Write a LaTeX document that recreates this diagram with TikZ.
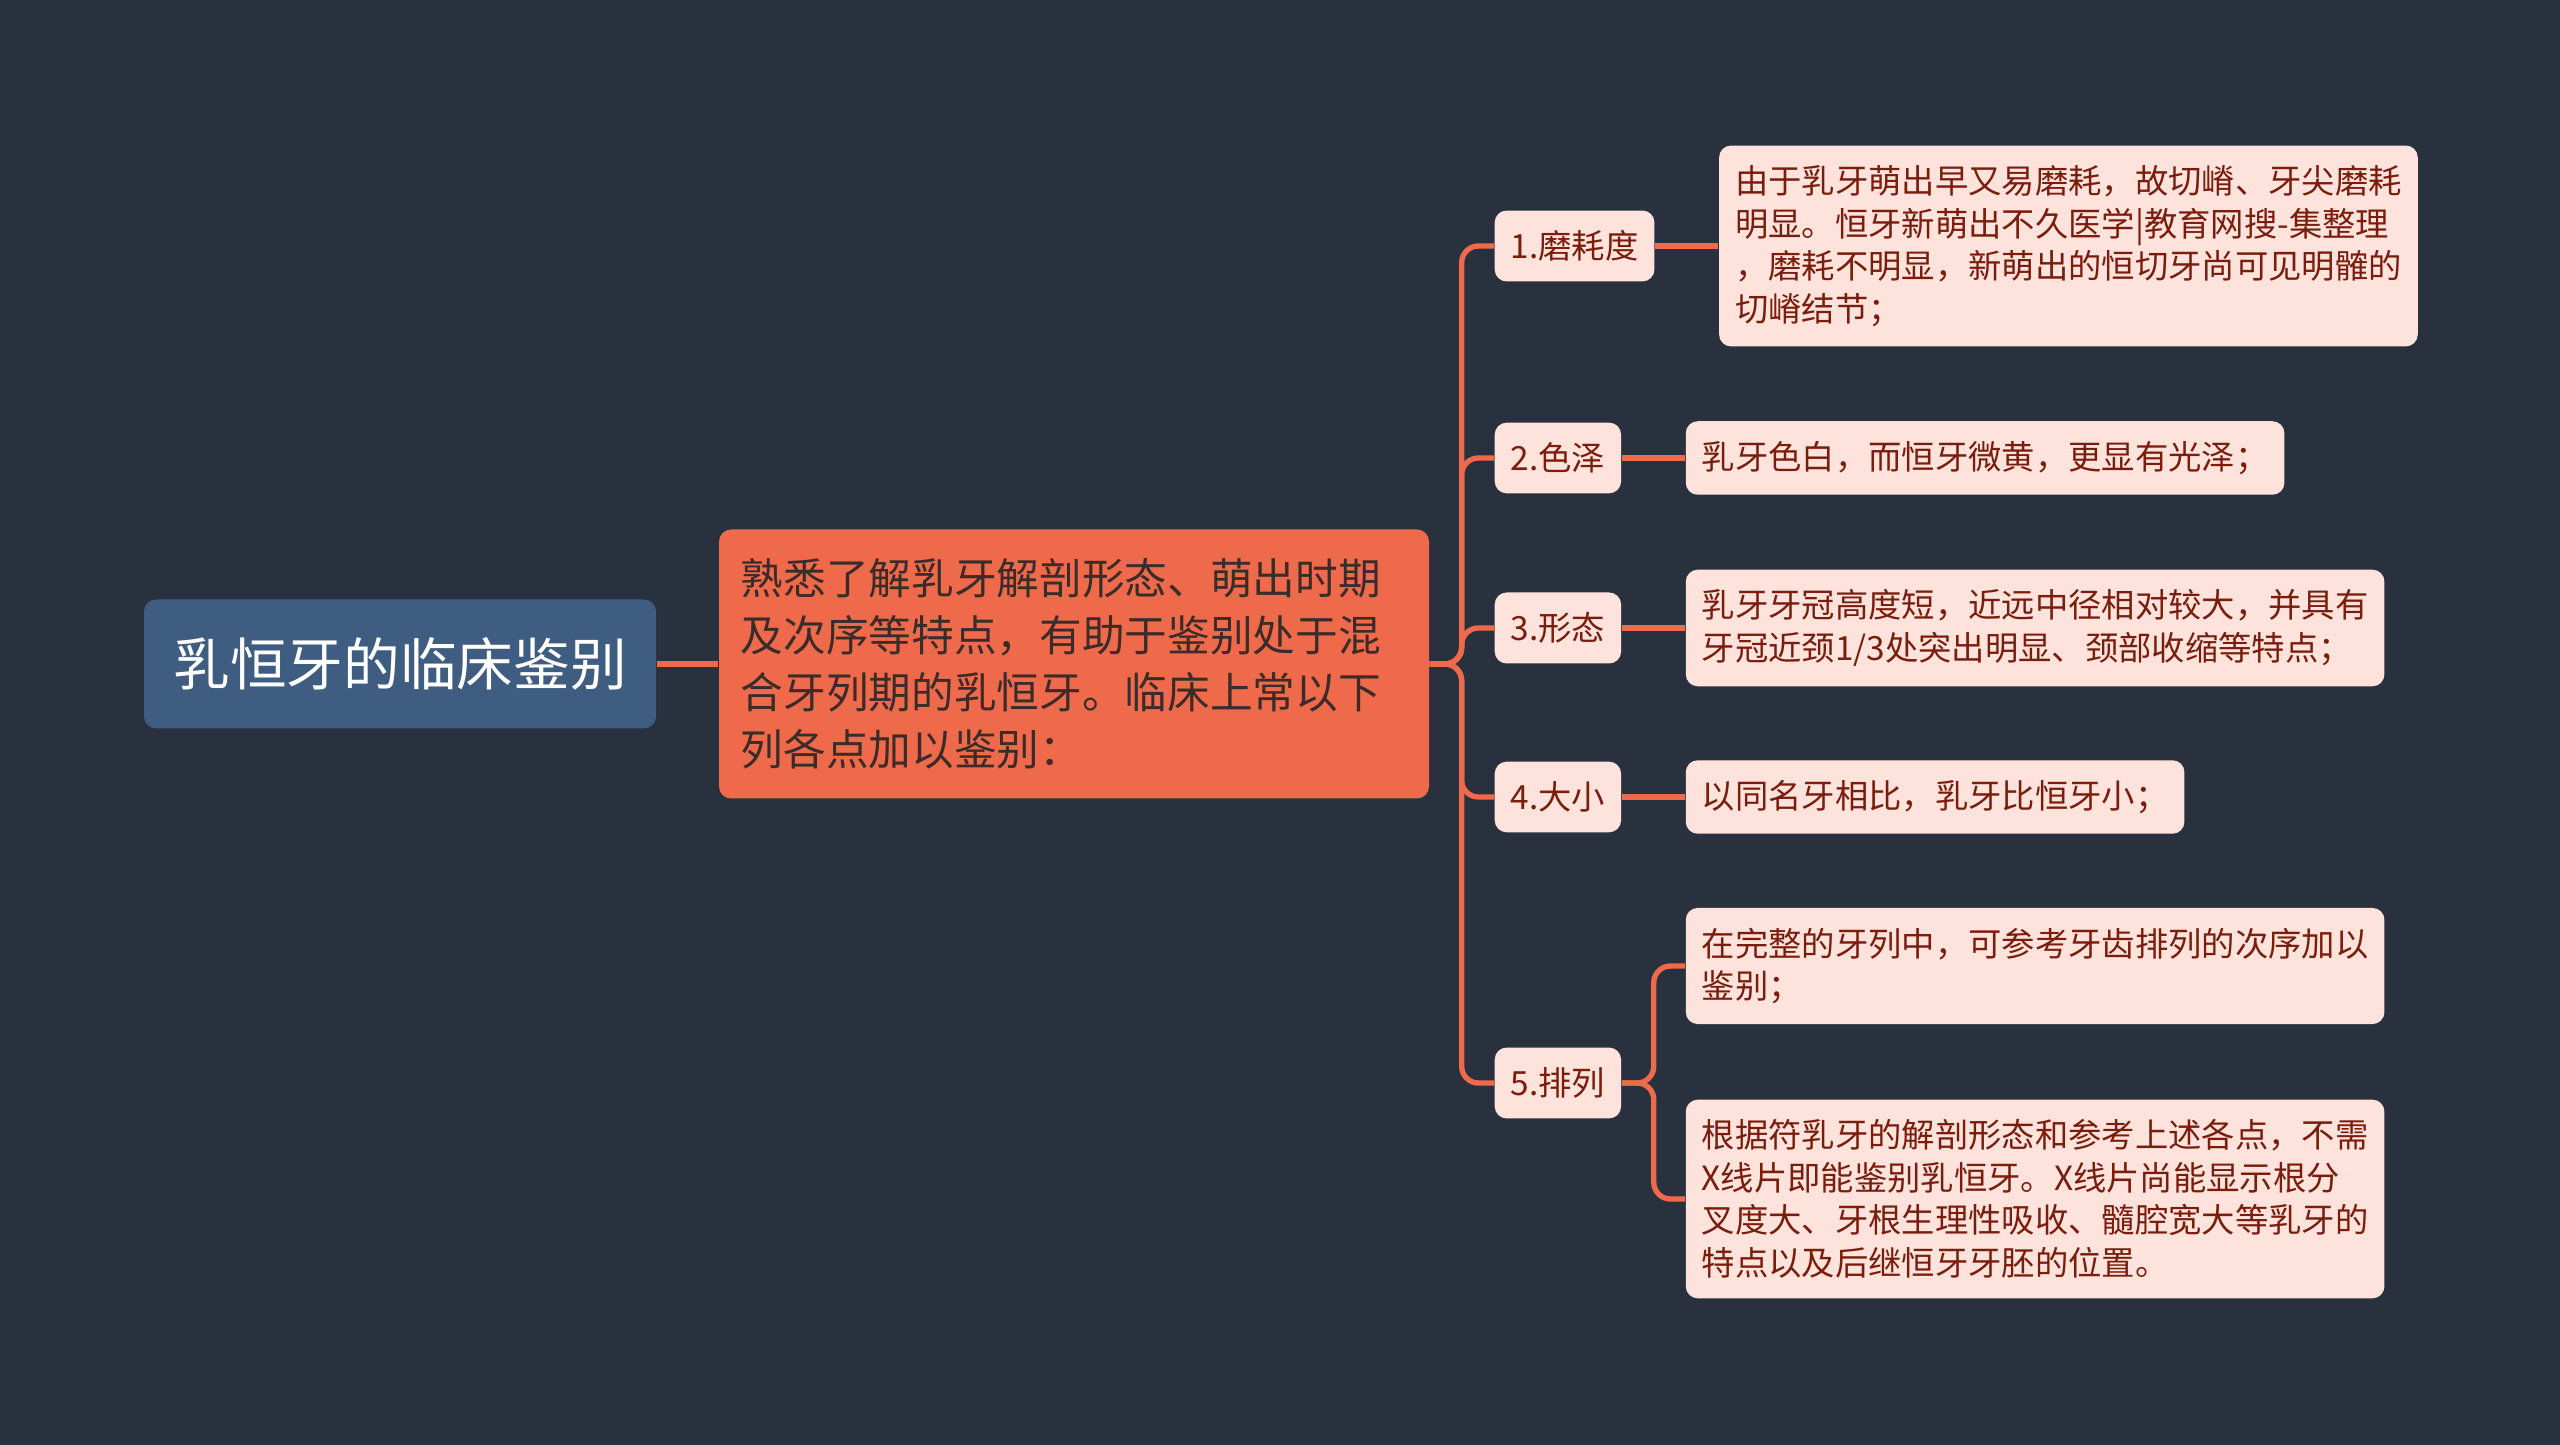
\documentclass[tikz,border=0pt]{standalone}
\usepackage{fontspec}
\newfontfamily\cjk{Noto Sans CJK SC}
\usetikzlibrary{positioning}
\definecolor{azulnoche}{HTML}{29313F}
\definecolor{azulraiz}{HTML}{3F5D81}
\definecolor{coral}{HTML}{EE6A4B}
\definecolor{rosapalido}{HTML}{FDE3DC}
\definecolor{granate}{HTML}{7A1D0D}
\definecolor{tinta}{HTML}{3B2C2A}
\colorlet{colFondo}{azulnoche}
\colorlet{colLinea}{coral}
\tikzset{
  cajaBase/.style={
    rounded corners=3.6pt, align=left, inner ysep=6pt
  },
  cajaRaiz/.style={cajaBase, fill=azulraiz, text=white, align=center,
    font=\cjk\fontsize{17}{20}\selectfont,
    minimum width=153.6pt, minimum height=38.7pt},
  cajaTema/.style={cajaBase, fill=coral, text=tinta,
    font=\cjk\fontsize{12.8}{17.1}\selectfont,
    text width=200pt, inner xsep=6.5pt, minimum height=80.7pt},
  cajaRama/.style={cajaBase, fill=rosapalido, text=granate,
    font=\cjk\fontsize{10}{12.75}\selectfont, inner xsep=4.8pt},
  cajaHoja/.style={cajaRama},
  linea/.style={draw=colLinea, line width=1.6pt, rounded corners=5pt},
}
\begin{document}
\begin{tikzpicture}[x=0.3pt, y=-0.3pt, node distance=19pt]
  \fill[colFondo] (0,0) rectangle (2560,1445);

  \node[cajaRaiz] (raiz) at (400,664) {乳恒牙的临床鉴别};
  \node[cajaTema] (tema) at (1074,664) {熟悉了解乳牙解剖形态、萌出时期\\及次序等特点，有助于鉴别处于混\\合牙列期的乳恒牙。临床上常以下\\列各点加以鉴别：};

  % ramas
  \node[cajaRama, anchor=west] (r1) at (1494,246) {1.磨耗度};
  \node[cajaRama, anchor=west] (r2) at (1494,458) {2.色泽};
  \node[cajaRama, anchor=west] (r3) at (1494,628) {3.形态};
  \node[cajaRama, anchor=west] (r4) at (1494,797) {4.大小};
  \node[cajaRama, anchor=west] (r5) at (1494,1083) {5.排列};

  % hojas
  \node[cajaHoja, right=of r1] (h1) {由于乳牙萌出早又易磨耗，故切嵴、牙尖磨耗\\明显。恒牙新萌出不久医学|教育网搜-集整理\\，磨耗不明显，新萌出的恒切牙尚可见明髉的\\切嵴结节；};
  \node[cajaHoja, right=of r2] (h2) {乳牙色白，而恒牙微黄，更显有光泽；};
  \node[cajaHoja, right=of r3] (h3) {乳牙牙冠高度短，近远中径相对较大，并具有\\牙冠近颈1/3处突出明显、颈部收缩等特点；};
  \node[cajaHoja, right=of r4] (h4) {以同名牙相比，乳牙比恒牙小；};
  \node[cajaHoja, right=of r5, yshift=35.1pt] (h5a) {在完整的牙列中，可参考牙齿排列的次序加以\\鉴别；};
  \node[cajaHoja, right=of r5, yshift=-34.8pt] (h5b) {根据符乳牙的解剖形态和参考上述各点，不需\\X线片即能鉴别乳恒牙。X线片尚能显示根分\\叉度大、牙根生理性吸收、髓腔宽大等乳牙的\\特点以及后继恒牙牙胚的位置。};

  \begin{scope}[on background layer/.try]
  \draw[linea] (raiz) -- (tema);
  \foreach \r in {r1,r2,r3,r4,r5}
    \draw[linea] (tema.east) -- ++(32,0) |- (\r.west);
  \foreach \r/\h in {r1/h1,r2/h2,r3/h3,r4/h4}
    \draw[linea] (\r.east) -- (\r.east -| \h.west);
  \draw[linea] (r5.east) -- ++(32,0) |- (h5a.west);
  \draw[linea] (r5.east) -- ++(32,0) |- (h5b.west);
  \end{scope}
\end{tikzpicture}
\end{document}
